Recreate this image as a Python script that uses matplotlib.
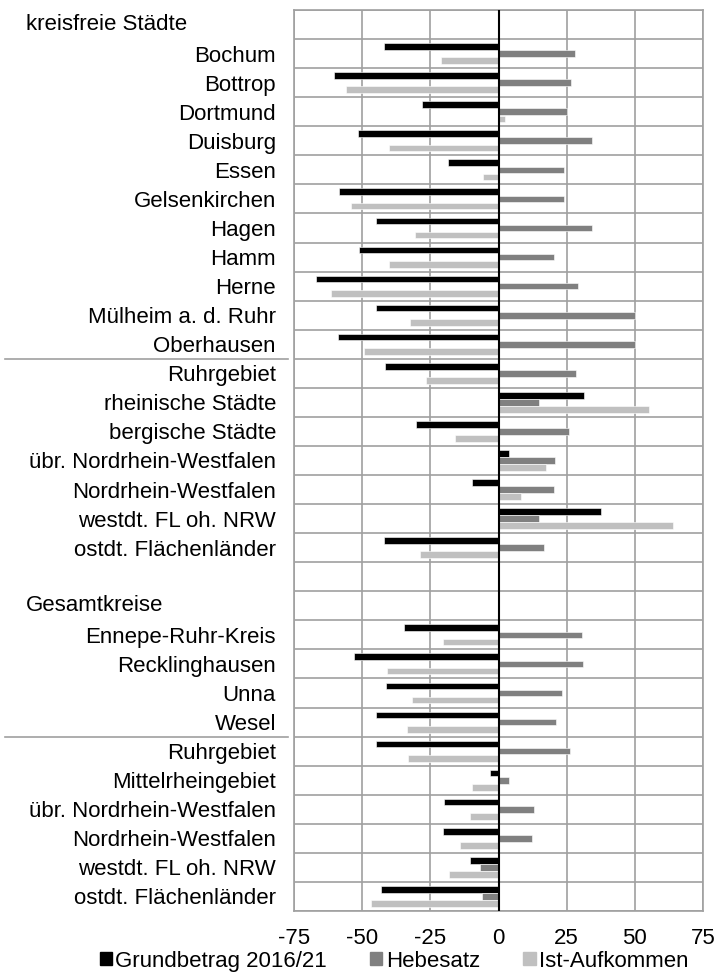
import numpy as np
import matplotlib
matplotlib.use("Agg")
import matplotlib.pyplot as plt
from matplotlib.patches import Patch
import matplotlib.transforms as mtransforms

plt.rcParams['font.family'] = ['Liberation Sans', 'DejaVu Sans']
plt.rcParams['axes.unicode_minus'] = False

# rows from top to bottom; None marks header / empty rows
labels = ["kreisfreie Städte", "Bochum", "Bottrop", "Dortmund", "Duisburg", "Essen",
          "Gelsenkirchen", "Hagen", "Hamm", "Herne", "Mülheim a. d. Ruhr", "Oberhausen",
          "Ruhrgebiet", "rheinische Städte", "bergische Städte", "übr. Nordrhein-Westfalen",
          "Nordrhein-Westfalen", "westdt. FL oh. NRW", "ostdt. Flächenländer", "",
          "Gesamtkreise", "Ennepe-Ruhr-Kreis", "Recklinghausen", "Unna", "Wesel",
          "Ruhrgebiet", "Mittelrheingebiet", "übr. Nordrhein-Westfalen",
          "Nordrhein-Westfalen", "westdt. FL oh. NRW", "ostdt. Flächenländer"]
headers = [0, 20]
separators = [11.5, 24.5]

grundbetrag = [None, -42.0, -60.2, -28.2, -51.7, -18.7, -58.4, -44.9, -51.3, -67.0, -45.0, -58.7,
               -41.8, 31.3, -30.3, 3.8, -9.7, 37.5, -42.0, None,
               None, -34.8, -53.0, -41.1, -44.9, -45.0, -3.3, -20.1, -20.2, -10.6, -43.1]
hebesatz = [None, 27.9, 26.7, 25.2, 34.4, 24.0, 24.0, 34.4, 20.2, 29.1, 49.9, 49.9,
            28.4, 15.0, 25.7, 20.8, 20.2, 15.0, 16.7, None,
            None, 30.6, 31.1, 23.3, 21.1, 26.4, 3.9, 13.2, 12.2, -6.7, -6.2]
ist_aufkommen = [None, -21.2, -55.8, 2.3, -40.0, -5.6, -54.1, -30.6, -40.1, -61.6, -32.4, -49.3,
                 -26.7, 55.2, -16.0, 17.5, 8.3, 64.0, -28.8, None,
                 None, -20.3, -40.9, -31.6, -33.4, -33.2, -9.7, -10.6, -14.1, -18.0, -46.6]

series = [("Grundbetrag 2016/21", grundbetrag, "#000000"),
          ("Hebesatz", hebesatz, "#808080"),
          ("Ist-Aufkommen", ist_aufkommen, "#c0c0c0")]

fs = 16

fig = plt.figure(figsize=(7.15, 9.72), dpi=100)
ax = fig.add_axes([294 / 715, 1 - 911 / 972, 409 / 715, 901 / 972])

y = np.arange(len(labels))
h = 0.23
for k, (name, vals, col) in enumerate(series):
    v = np.array([np.nan if a is None else a for a in vals], dtype=float)
    ax.barh(y + (k - 1) * 0.245, v, height=h, color=col, edgecolor="white", linewidth=0.4,
            label=name, zorder=3)

ax.set_xlim(-75, 75)
ax.set_ylim(len(labels) - 0.5, -0.5)
ax.set_xticks([-75, -50, -25, 0, 25, 50, 75])
ax.set_yticks(y)
ax.set_yticklabels(["" if i in headers else t for i, t in enumerate(labels)])
ax.set_yticks(np.arange(-0.5, len(labels), 1), minor=True)
ax.tick_params(axis="both", which="both", length=0, labelsize=fs)
ax.tick_params(axis="y", pad=13)
ax.tick_params(axis="x", pad=12)
ax.grid(True, axis="x", which="major", color="#a0a0a0", lw=1.2, zorder=1)
ax.grid(True, axis="y", which="minor", color="#a0a0a0", lw=1.2, zorder=1)
for s in ax.spines.values():
    s.set_color("#a0a0a0")
    s.set_linewidth(1.2)
ax.axvline(0, color="black", lw=1.5, zorder=4)

trans = mtransforms.blended_transform_factory(ax.transAxes, ax.transData)
for i in headers:
    ax.text(-0.655, i, labels[i], transform=trans, ha="left", va="center", fontsize=fs)
for s in separators:
    ax.plot([-0.707, -0.015], [s, s], transform=trans, color="#a0a0a0", lw=1.2, clip_on=False)

handles = [Patch(color=c, label=n) for n, _, c in series]
fig.legend(handles=handles, loc="center", bbox_to_anchor=(0.551, 1 - 961 / 972), ncol=3,
           frameon=False, fontsize=fs, handlelength=0.55, handleheight=0.55,
           handletextpad=0.15, columnspacing=1.95, borderpad=0.0)

plt.savefig("out.png", dpi=100)
